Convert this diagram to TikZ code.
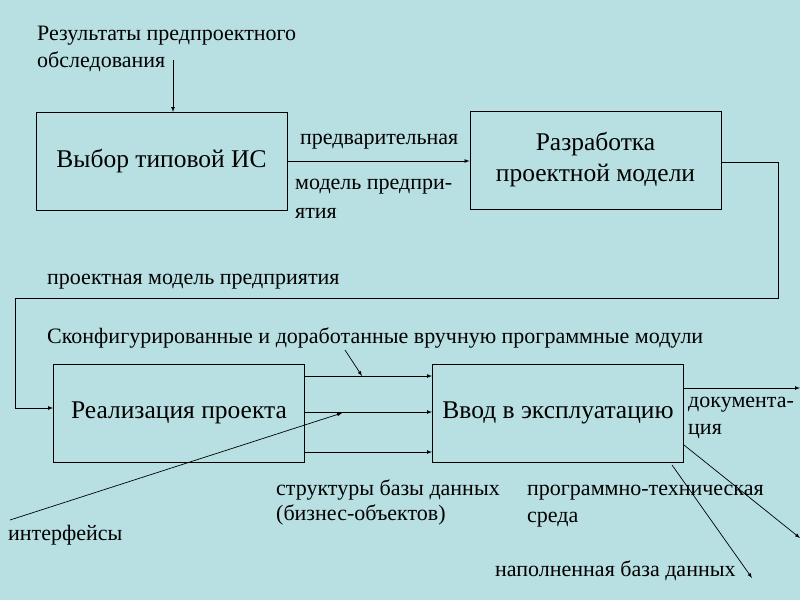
\documentclass[tikz,border=0pt]{standalone}
\usepackage{fontspec}
\setmainfont{Liberation Serif}
\definecolor{bg}{HTML}{B8DFE2}
\begin{document}
\begin{tikzpicture}[x=1pt,y=-1pt,
  box/.style={draw,line width=0.8pt,minimum width=251pt,minimum height=98pt,font=\fontsize{25.5}{31}\selectfont,align=center},
  lbl/.style={anchor=west,font=\fontsize{22}{26}\selectfont,inner sep=0pt},
  arr/.style={-latex,line width=0.7pt}]
\fill[bg] (0,0) rectangle (800,600);
\useasboundingbox (0,0) rectangle (800,600);
\node[box] (A) at (161.5,161) {Выбор типовой ИС};
\node[box] (B) at (595.5,160) {Разработка\\проектной модели};
\node[box] (C) at (179,413) {Реализация проекта};
\node[box] (D) at (558,413) {\raisebox{4pt}{Ввод в эксплуатацию}};
\coordinate (s0) at (173,60);
\draw[arr] (s0) -- (173,112);
\draw[arr] (A.east |- 0,161) -- (B.west |- 0,161);
\draw[arr] (B.east |- 0,162) -- (778,162) -- (778,298) -- (15,298) -- (15,408) -- (C.west |- 0,408);
\draw[arr] (305,376) -- (432,376);
\draw[arr] (305,412) -- (432,412);
\draw[arr] (305,452) -- (432,452);
\coordinate (k0) at (345,350); \coordinate (k1) at (362,376);
\draw[arr] (k0) -- (k1);
\coordinate (i0) at (10,520); \coordinate (i1) at (342,413);
\draw[arr] (i0) -- (i1);
\coordinate (o1) at (800,388); \draw[arr] (684,388) -- (o1);
\coordinate (o2) at (800,538); \draw[arr] (684,445) -- (o2);
\coordinate (o3) at (752,578); \draw[arr] (672,465) -- (o3);
\node[lbl] (t1) at (37,36) {Результаты предпроектного};
\node[lbl] (t2) at (37,62) {обследования};
\node[lbl] (t3) at (300,142) {предварительная};
\node[lbl] (t4) at (295,187) {модель предпри-};
\node[lbl] (t5) at (295,213) {ятия};
\node[lbl] (t6) at (47,282) {проектная модель предприятия};
\node[lbl] (t7) at (47,338) {Сконфигурированные и доработанные вручную программные модули};
\node[lbl] (t8) at (688,405) {документа-};
\node[lbl] (t9) at (688,432) {ция};
\node[lbl] (t10) at (276,490) {структуры базы данных};
\node[lbl] (t11) at (276,515) {(бизнес-объектов)};
\node[lbl] (t12) at (527,493) {программно-техническая};
\node[lbl] (t13) at (527,520) {среда};
\node[lbl] (t14) at (8,535) {интерфейсы};
\node[lbl] (t15) at (495,571) {наполненная база данных};
\end{tikzpicture}
\end{document}
